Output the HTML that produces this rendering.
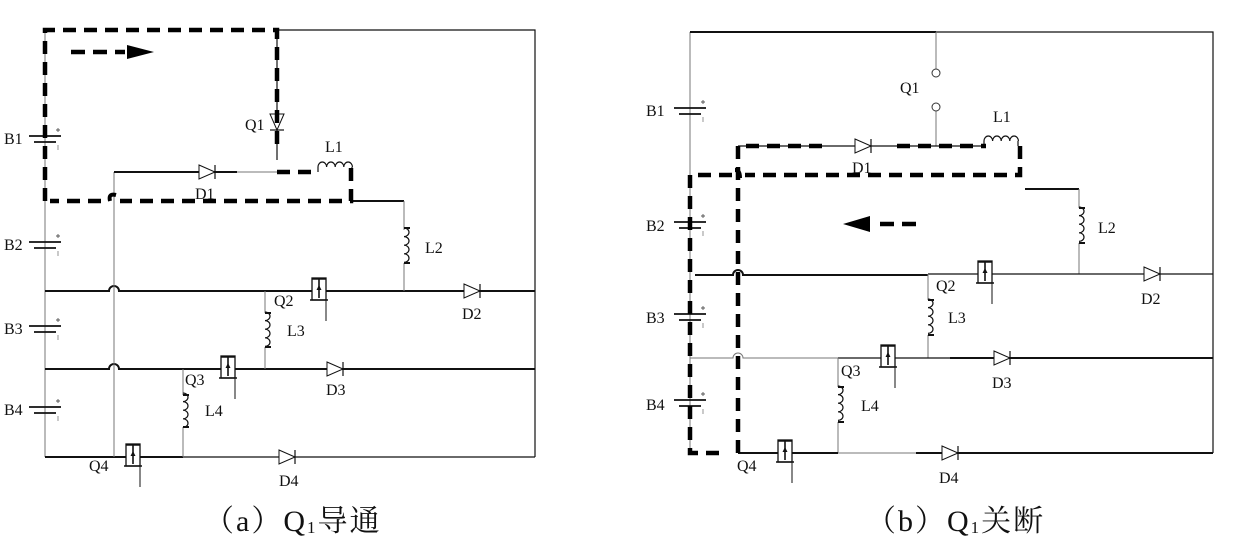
<!DOCTYPE html>
<html><head><meta charset="utf-8"><style>
html,body{margin:0;padding:0;background:#fff;}
svg{display:block;}
text{font-family:"Liberation Serif","Noto Serif CJK SC",serif;fill:#111;}
.w{stroke:#111;stroke-width:1.2;fill:none;}
.t{stroke:#111;stroke-width:2;fill:none;}
.g{stroke:#777;stroke-width:1;fill:none;}
.d{stroke:#000;stroke-width:4.5;fill:none;stroke-dasharray:13 8;}
.lb{font-size:16px;}
.cap{font-size:30px;letter-spacing:2px;}
</style></head><body>
<svg width="1235" height="548" viewBox="0 0 1235 548" xmlns="http://www.w3.org/2000/svg">
<defs>
<g id="dr"><path d="M-8,-7 L8,0 L-8,7 Z" fill="#fff" stroke="#111" stroke-width="1"/><path d="M8,-7 V7" stroke="#111" stroke-width="1.2"/></g>
<g id="mos"><rect x="-7" y="-13" width="14" height="22" fill="#fff" stroke="#111" stroke-width="1.3"/><path d="M-7,-12 H7 M0,-12 V7 M-9,9 H9" stroke="#111" stroke-width="1.6" fill="none"/><path d="M-2.5,-1 L0,-6 L2.5,-1 Z" fill="#111"/><path d="M7,9 V30" stroke="#111" stroke-width="1"/></g>
<g id="bat"><path d="M-16,0 H16" stroke="#111" stroke-width="1.8"/><path d="M-11,6 H11" stroke="#111" stroke-width="1.8"/><path d="M11,-6 h4 M13,-8 v4" stroke="#555" stroke-width="0.9"/><path d="M13,9 v5" stroke="#888" stroke-width="0.9"/></g>
<path id="vc" d="M0,0 a5,4.3 0 0 1 0,8.6 a5,4.3 0 0 1 0,8.6 a5,4.3 0 0 1 0,8.6 a5,4.3 0 0 1 0,8.6" fill="none" stroke="#111" stroke-width="1.2"/>
<path id="hc" d="M0,0 a4.3,5 0 0 1 8.6,0 a4.3,5 0 0 1 8.6,0 a4.3,5 0 0 1 8.6,0 a4.3,5 0 0 1 8.6,0" fill="none" stroke="#111" stroke-width="1.2"/>
</defs>

<!-- ===== LEFT (a) ===== -->
<path class="g" d="M45,30 V457"/>
<path class="w" d="M277,30 H535 V457"/>
<path class="t" d="M45,291 H109 a5,5 0 0 1 10,0 H535"/>
<path class="t" d="M45,369 H109 a5,5 0 0 1 10,0 H535"/>
<path class="t" d="M45,457 H183"/><path class="w" d="M183,457 H535"/>
<path class="g" d="M114,172 V457"/>
<path class="t" d="M114,172 H237"/><path class="g" d="M237,172 H277"/>
<path class="w" d="M277,30 V160"/>
<path class="t" d="M350,201 H404"/>
<path class="g" d="M404,201 V230 M404,263 V291"/>
<use href="#vc" x="404" y="228"/><path class="t" d="M404,228 h6 M404,263 h6"/>
<path class="g" d="M265,291 V313 M265,347 V369"/>
<use href="#vc" x="265" y="312"/><path class="t" d="M265,313 h6 M265,347 h6"/>
<path class="g" d="M183,369 V395 M183,427 V457"/>
<use href="#vc" x="183" y="393"/><path class="t" d="M183,395 h6 M183,427 h6"/>
<use href="#hc" x="318" y="167"/><path class="w" d="M318,167 v5 M352,167 v5"/>
<use href="#dr" x="277" y="122" transform="rotate(90 277 122)"/>
<use href="#dr" x="207" y="172"/>
<use href="#dr" x="472" y="291"/>
<use href="#dr" x="335" y="369"/>
<use href="#dr" x="287" y="457"/>
<use href="#mos" x="319" y="291"/>
<use href="#mos" x="228" y="369"/>
<use href="#mos" x="133" y="457"/>
<use href="#bat" x="45" y="136"/>
<use href="#bat" x="45" y="242"/>
<use href="#bat" x="45" y="326"/>
<use href="#bat" x="45" y="407"/>
<path class="d" d="M45,201 V30 H277 V148"/>
<path class="d" d="M277,172 H318"/>
<path class="d" d="M351,168 V201 H120"/>
<path d="M110,201 q-2,-8 6,-6" stroke="#000" stroke-width="4" fill="none"/>
<path class="d" d="M101,201 H50" />
<path d="M71,52 H125" stroke="#000" stroke-width="4.5" stroke-dasharray="14 8"/>
<path d="M127,45 L154,52 L127,59 Z" fill="#000"/>
<g class="lb">
<text x="4" y="144">B1</text><text x="4" y="250">B2</text><text x="4" y="334">B3</text><text x="4" y="415">B4</text>
<text x="245" y="130">Q1</text><text x="195" y="199">D1</text><text x="325" y="152">L1</text>
<text x="425" y="253">L2</text><text x="274" y="306">Q2</text><text x="462" y="319">D2</text>
<text x="287" y="336">L3</text><text x="185" y="385">Q3</text><text x="326" y="395">D3</text>
<text x="205" y="416">L4</text><text x="89" y="471">Q4</text><text x="279" y="486">D4</text>
</g>
<text class="cap" x="204" y="531">（a）Q<tspan font-size="17" dy="2">1</tspan><tspan dy="-2">导通</tspan></text>

<!-- ===== RIGHT (b) ===== -->
<path class="g" d="M690,32 V453"/>
<path class="t" d="M690,32 H936"/><path class="w" d="M936,32 H1213 V453"/>
<path class="g" d="M936,32 V69 M936,111 V146"/>
<circle cx="936" cy="73" r="4" fill="#fff" stroke="#333" stroke-width="1"/>
<circle cx="936" cy="107" r="4" fill="#fff" stroke="#333" stroke-width="1"/>
<path class="w" d="M738,146 H986"/>
<use href="#hc" x="984" y="141"/><path class="w" d="M984,141 v5 M1018,141 v5"/>
<path class="t" d="M1025,189 H1079"/>
<path class="g" d="M1079,189 V208 M1079,243 V274"/>
<use href="#vc" x="1079" y="207"/><path class="t" d="M1079,208 h6 M1079,243 h6"/>
<path class="t" d="M695,275 H733 a5,5 0 0 1 10,0 H928"/><path class="w" d="M928,274 H1213"/>
<path class="g" d="M928,274 V300 M928,335 V358"/>
<use href="#vc" x="928" y="299"/><path class="t" d="M928,300 h6 M928,335 h6"/>
<path class="g" d="M690,358 H733 a5,5 0 0 1 10,0 H838"/><path class="w" d="M838,358 H950"/><path class="t" d="M950,358 H1213"/>
<path class="g" d="M838,358 V387 M838,422 V453"/>
<use href="#vc" x="838" y="386"/><path class="t" d="M838,387 h6 M838,422 h6"/>
<path class="t" d="M738,453 H838"/><path class="g" d="M838,453 H916"/><path class="t" d="M916,453 H1213"/>
<use href="#dr" x="863" y="146"/>
<use href="#dr" x="1152" y="274"/>
<use href="#dr" x="1002" y="358"/>
<use href="#dr" x="950" y="453"/>
<use href="#mos" x="985" y="274"/>
<use href="#mos" x="888" y="358"/>
<use href="#mos" x="785" y="453"/>
<use href="#bat" x="690" y="108"/>
<use href="#bat" x="690" y="222"/>
<use href="#bat" x="690" y="314"/>
<use href="#bat" x="690" y="400"/>
<path class="d" d="M738,453 V146 H822"/>
<path class="d" d="M897,146 H986"/>
<path class="d" d="M1020,146 V175 H745"/>
<path d="M735,170 q5,0 5,8" stroke="#000" stroke-width="4" fill="none"/>
<path class="d" d="M732,175 H690 V453 H726"/>
<path d="M880,224 H922" stroke="#000" stroke-width="4.5" stroke-dasharray="14 8"/>
<path d="M870,216 L843,224 L870,232 Z" fill="#000"/>
<g class="lb">
<text x="646" y="116">B1</text><text x="646" y="231">B2</text><text x="646" y="323">B3</text><text x="646" y="410">B4</text>
<text x="900" y="93">Q1</text><text x="993" y="122">L1</text><text x="852" y="173">D1</text>
<text x="1098" y="233">L2</text><text x="936" y="291">Q2</text><text x="1141" y="304">D2</text>
<text x="948" y="323">L3</text><text x="841" y="376">Q3</text><text x="992" y="388">D3</text>
<text x="861" y="411">L4</text><text x="737" y="471">Q4</text><text x="939" y="483">D4</text>
</g>
<text class="cap" x="866" y="531">（b）Q<tspan font-size="17" dy="2">1</tspan><tspan dy="-2">关断</tspan></text>
</svg>
</body></html>
